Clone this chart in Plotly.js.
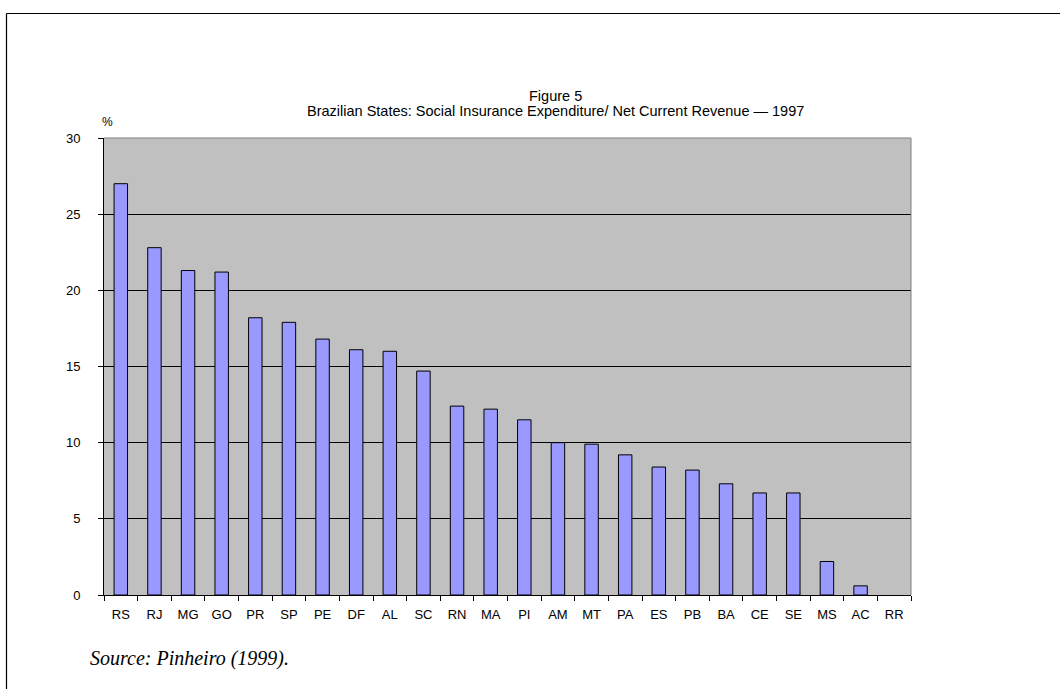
<!DOCTYPE html>
<html>
<head>
<meta charset="utf-8">
<script src="https://cdn.plot.ly/plotly-3.0.1.min.js"></script>
<style>
html,body{margin:0;padding:0;background:#fff;}
#chart{width:1060px;height:689px;}
</style>
</head>
<body>
<div id="chart"></div>
<script>
var states = ["RS","RJ","MG","GO","PR","SP","PE","DF","AL","SC","RN","MA","PI","AM","MT","PA","ES","PB","BA","CE","SE","MS","AC","RR"];
var ratio = [27.0,22.8,21.3,21.2,18.2,17.9,16.8,16.1,16.0,14.7,12.4,12.2,11.5,10.0,9.9,9.2,8.4,8.2,7.3,6.7,6.7,2.2,0.6,0];
var yTicks = [0,5,10,15,20,25,30];

var L = 104, R = 911, T = 138, B = 595, W = 1060, H = 689;
function px(x){ return (x - L) / (R - L); }
function py(y){ return (B - y) / (B - T); }

var trace = {
  type: "bar",
  x: states,
  y: ratio,
  width: 0.4,
  marker: {color: "#9999FF", line: {color: "#000000", width: ratio.map(function(v){ return v > 0 ? 1 : 0; })}},
  hoverinfo: "x+y"
};

var layout = {
  width: W, height: H,
  margin: {l: L, r: W - R, t: T, b: H - B, pad: 0},
  paper_bgcolor: "#FFFFFF",
  plot_bgcolor: "#C0C0C0",
  showlegend: false,
  font: {family: "Liberation Sans, Arial, sans-serif", size: 13, color: "#000"},
  xaxis: {
    type: "category",
    tickson: "boundaries",
    ticks: "outside", ticklen: 5, tickcolor: "#000", tickwidth: 1,
    showline: true, linecolor: "#000", linewidth: 1,
    showgrid: false, zeroline: false,
    ticklabelstandoff: 7,
    tickfont: {size: 13, color: "#000"},
    fixedrange: true
  },
  yaxis: {
    range: [0, 30],
    tickvals: yTicks,
    ticktext: yTicks.map(String),
    ticks: "outside", ticklen: 5, tickcolor: "#000", tickwidth: 1,
    showline: true, linecolor: "#000", linewidth: 1,
    showgrid: true, gridcolor: "#000", gridwidth: 1,
    zeroline: false,
    ticklabelstandoff: 15,
    tickfont: {size: 13, color: "#000"},
    fixedrange: true
  },
  shapes: [
    {type: "line", xref: "paper", yref: "paper", x0: 0, x1: 1, y0: 1, y1: 1, line: {color: "#808080", width: 1}},
    {type: "line", xref: "paper", yref: "paper", x0: 1, x1: 1, y0: 0, y1: 1, line: {color: "#808080", width: 1}},
    {type: "line", xref: "paper", yref: "paper", x0: px(6.5), x1: px(1060), y0: py(13.5), y1: py(13.5), line: {color: "#000", width: 1.2}},
    {type: "line", xref: "paper", yref: "paper", x0: px(6.5), x1: px(6.5), y0: py(13.5), y1: py(689), line: {color: "#000", width: 1.2}}
  ],
  annotations: [
    {xref: "paper", yref: "paper", x: px(555), y: py(96), xanchor: "center", yanchor: "middle", showarrow: false,
     text: "Figure 5", font: {size: 14.5, color: "#000"}},
    {xref: "paper", yref: "paper", x: px(555), y: py(111), xanchor: "center", yanchor: "middle", showarrow: false,
     text: "Brazilian States: Social Insurance Expenditure/ Net Current Revenue — 1997", font: {size: 14.5, color: "#000"}},
    {xref: "paper", yref: "paper", x: px(100), y: py(122), xanchor: "left", yanchor: "middle", showarrow: false,
     text: "%", font: {size: 12, color: "#000"}},
    {xref: "paper", yref: "paper", x: px(88), y: py(658), xanchor: "left", yanchor: "middle", showarrow: false,
     text: "<i>Source: Pinheiro (1999).</i>", font: {family: "Liberation Serif, Times New Roman, serif", size: 20, color: "#000"}}
  ]
};

Plotly.newPlot("chart", [trace], layout, {displayModeBar: false, staticPlot: true});
</script>
</body>
</html>
